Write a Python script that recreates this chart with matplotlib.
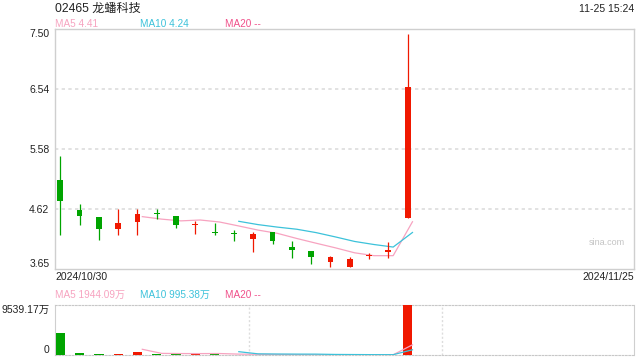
import matplotlib.pyplot as plt
import numpy as np

plt.rcParams['font.family'] = ['Liberation Sans', 'Noto Sans CJK SC']

# daily k-line, 2024/10/30 .. 2024/11/25
opens = [5.07, 4.59, 4.48, 4.29, 4.41, 4.55, 4.50, 4.35, 4.24, 4.22,
         4.13, 4.24, 4.00, 3.94, 3.77, 3.69, 3.86, 3.93, 4.47]
closes = [4.74, 4.50, 4.29, 4.39, 4.53, 4.54, 4.36, 4.36, 4.23, 4.21,
          4.21, 4.10, 3.95, 3.85, 3.84, 3.81, 3.87, 3.95, 6.57]
highs = [5.46, 4.69, 4.48, 4.62, 4.62, 4.62, 4.50, 4.42, 4.38, 4.27,
         4.25, 4.24, 4.10, 3.94, 3.86, 3.85, 3.91, 4.09, 7.42]
lows = [4.20, 4.36, 4.11, 4.20, 4.20, 4.45, 4.30, 4.21, 4.20, 4.10,
        3.92, 4.05, 3.83, 3.73, 3.69, 3.68, 3.81, 3.83, 4.47]
# volume in 万
volumes = [4150, 380, 190, 100, 630, 240, 220, 150, 170, 70,
           50, 45, 35, 33.3, 40, 35, 30, 76.3, 9539.17]

price_ticks = ["3.65", "4.62", "5.58", "6.54", "7.50"]
vol_ticks = ["0", "9539.17万"]
title = "02465 龙蟠科技"
stamp = "11-25 15:24"
start_date, end_date = "2024/10/30", "2024/11/25"

RED = '#f01800'
GREEN = '#00a400'
C_MA5 = '#f7a3c0'
C_MA10 = '#3cc2da'
C_MA20 = '#f0508a'
GRID = '#dddddd'
FRAME = '#cfcfcf'
TXT = '#222222'


def moving_avg(vals, n):
    s = np.array(vals, dtype=float)
    out = np.full(len(s), np.nan)
    for i in range(n - 1, len(s)):
        out[i] = s[i - n + 1:i + 1].mean()
    return out


o = np.array(opens)
c = np.array(closes)
x = np.arange(len(c))
colors = [RED if cc >= oo else GREEN for oo, cc in zip(o, c)]
xlim = (-0.275, 29.73)
shift = 0.25  # MA lines sit slightly right of candle centres

fig = plt.figure(figsize=(6.4, 3.6), dpi=100)
ax = fig.add_axes([55 / 640, 1 - 269 / 360, 579 / 640, 240 / 360])
axv = fig.add_axes([55 / 640, 1 - 355 / 360, 579 / 640, 50 / 360])

# --- price panel
ymin, ymax = float(price_ticks[0]), float(price_ticks[-1])
yt = np.linspace(ymin, ymax, len(price_ticks))
for v in yt[1:-1]:
    ax.axhline(v, color=GRID, lw=1.2, ls=(0, (2, 2)), zorder=0)

ax.plot(x + shift, moving_avg(c, 5), color=C_MA5, lw=0.9, zorder=2)
ax.plot(x + shift, moving_avg(c, 10), color=C_MA10, lw=0.9, zorder=2)

ax.vlines(x, lows, highs, colors=colors, lw=0.9, zorder=3)
body = np.maximum(np.abs(c - o), 0.016)
ax.bar(x, body, bottom=np.minimum(o, c), width=0.3, color=colors, lw=0, zorder=4)

ax.set_xlim(*xlim)
ax.set_ylim(ymin, ymax)
ax.set_xticks([])
ax.set_yticks(yt)
ax.set_yticklabels(price_ticks)
ax.tick_params(axis='y', length=0, pad=4, labelsize=7.5, labelcolor=TXT)
labs = ax.get_yticklabels()
labs[0].set_va('bottom')
labs[-1].set_va('top')
for sp in ax.spines.values():
    sp.set_color(FRAME)
    sp.set_linewidth(1)
ax.text(0.985, 0.11, "sina.com", transform=ax.transAxes, ha='right', va='center',
        fontsize=6.5, color='#c4c4c4')

# --- volume panel
vmax = float(volumes[-1])
axv.bar(x, volumes, width=0.48, color=colors, lw=0, zorder=3)
axv.plot(x + shift, moving_avg(volumes, 5), color=C_MA5, lw=0.9, zorder=4)
axv.plot(x + shift, moving_avg(volumes, 10), color=C_MA10, lw=0.9, zorder=4)
for xv in (9.78, 19.78):
    axv.axvline(xv, color=GRID, lw=1, ls=(0, (1.5, 1.5)), zorder=0)
axv.set_xlim(*xlim)
axv.set_ylim(0, vmax)
axv.set_xticks([])
axv.set_yticks([0, vmax])
axv.set_yticklabels(vol_ticks)
axv.tick_params(axis='y', length=0, pad=4, labelsize=7.5, labelcolor=TXT)
vl = axv.get_yticklabels()
vl[0].set_va('bottom')
vl[1].set_va('top')
for k in ('top', 'bottom'):
    axv.spines[k].set_color('#c8c8c8')
    axv.spines[k].set_linestyle((0, (1.5, 1.5)))
for k in ('left', 'right'):
    axv.spines[k].set_color(FRAME)

# --- header / legend texts
fig.text(55 / 640, 1 - 9 / 360, title, fontsize=8.7, color=TXT, va='center')
fig.text(634 / 640, 1 - 9 / 360, stamp, fontsize=7.5, color=TXT, va='center', ha='right')

ma5 = moving_avg(c, 5)[-1]
ma10 = moving_avg(c, 10)[-1]
fig.text(55 / 640, 1 - 24 / 360, "MA5 %.2f" % ma5, fontsize=7.2, color=C_MA5, va='center')
fig.text(140 / 640, 1 - 24 / 360, "MA10 %.2f" % ma10, fontsize=7.2, color=C_MA10, va='center')
fig.text(225 / 640, 1 - 24 / 360, "MA20 --", fontsize=7.2, color=C_MA20, va='center')

vma5 = moving_avg(volumes, 5)[-1]
vma10 = moving_avg(volumes, 10)[-1]
fig.text(55 / 640, 1 - 295 / 360, "MA5 %.2f万" % vma5, fontsize=7.2, color=C_MA5, va='center')
fig.text(140 / 640, 1 - 295 / 360, "MA10 %.2f万" % vma10, fontsize=7.2, color=C_MA10, va='center')
fig.text(225 / 640, 1 - 295 / 360, "MA20 --", fontsize=7.2, color=C_MA20, va='center')

fig.text(55 / 640, 1 - 277 / 360, start_date, fontsize=7.5, color=TXT, va='center')
fig.text(634 / 640, 1 - 277 / 360, end_date, fontsize=7.5, color=TXT, va='center', ha='right')

fig.savefig('out.png', dpi=100)
